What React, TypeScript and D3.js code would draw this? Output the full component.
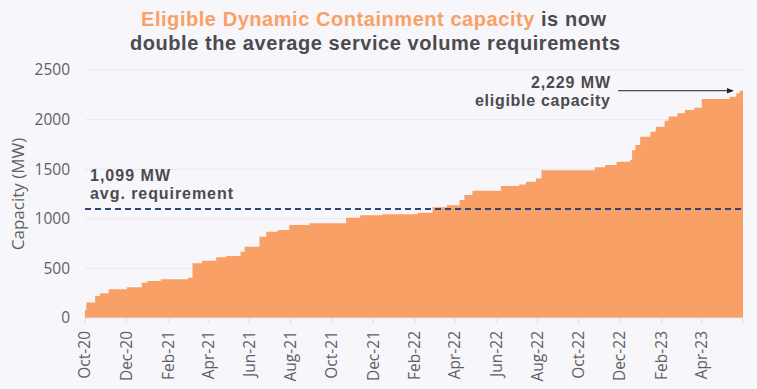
import React, { useEffect } from "react";
import * as d3 from "d3";

const stepDates: string[] = [
  "2020-10-01", "2020-10-03", "2020-10-16", "2020-10-23", "2020-11-05", "2020-12-02",
  "2020-12-24", "2021-01-01", "2021-01-21", "2021-03-02", "2021-03-09", "2021-03-23",
  "2021-04-13", "2021-04-28", "2021-05-19", "2021-05-25", "2021-06-16", "2021-06-26",
  "2021-07-13", "2021-07-30", "2021-08-29", "2021-10-22", "2021-11-12", "2021-12-14",
  "2022-02-05", "2022-02-27", "2022-03-20", "2022-04-08", "2022-04-15", "2022-04-27",
  "2022-06-08", "2022-07-05", "2022-07-15", "2022-07-30", "2022-08-07", "2022-10-25",
  "2022-11-09", "2022-11-26", "2022-12-16", "2022-12-19", "2022-12-24", "2022-12-31",
  "2023-01-15", "2023-01-23", "2023-02-05", "2023-02-11", "2023-02-24", "2023-03-07",
  "2023-03-21", "2023-04-01", "2023-05-12", "2023-05-22", "2023-05-27", "2023-06-01",
];
const capacityMW: number[] = [
  80, 155, 222, 249, 289, 309,
  356, 373, 390, 406, 551, 578,
  612, 625, 668, 719, 820, 870,
  887, 937, 955, 1011, 1035, 1045,
  1060, 1116, 1136, 1190, 1240, 1283,
  1330, 1347, 1374, 1405, 1490, 1519,
  1542, 1576, 1593, 1690, 1744, 1828,
  1878, 1929, 1989, 2030, 2063, 2097,
  2120, 2208, 2231, 2265, 2291, 2291,
];
const tickDates: string[] = [
  "2020-10-01", "2020-12-01", "2021-02-01", "2021-04-01", "2021-06-01", "2021-08-01",
  "2021-10-01", "2021-12-01", "2022-02-01", "2022-04-01", "2022-06-01", "2022-08-01",
  "2022-10-01", "2022-12-01", "2023-02-01", "2023-04-01", "2023-06-01",
];
const tickLabels: string[] = [
  "Oct-20", "Dec-20", "Feb-21", "Apr-21", "Jun-21", "Aug-21", "Oct-21", "Dec-21",
  "Feb-22", "Apr-22", "Jun-22", "Aug-22", "Oct-22", "Dec-22", "Feb-23", "Apr-23", "",
];
const yTicks: number[] = [0, 500, 1000, 1500, 2000, 2500];
const avgRequirement = 1099;

const W = 757;
const H = 389;
const BG = "#f7f6fa";
const ORANGE = "#f9a066";
const TEXT = "#4b4b4f";
const FONT = "'Open Sans', 'DejaVu Sans', sans-serif";
const BOLD_FONT = "'Liberation Sans', Arial, sans-serif";

export default function App() {
  useEffect(() => {
    document.body.style.margin = "0";
    document.body.style.background = BG;
  }, []);

  const parse = d3.utcParse("%Y-%m-%d");
  const data = stepDates.map((d, i) => ({ date: parse(d) as Date, v: capacityMW[i] }));

  const x = d3
    .scaleUtc()
    .domain([parse("2020-10-01") as Date, parse("2023-06-01") as Date])
    .range([85, 743]);
  const y = d3.scaleLinear().domain([0, 2500]).range([318, 70]);

  const area = d3
    .area<{ date: Date; v: number }>()
    .x((d) => x(d.date))
    .y0(y(0))
    .y1((d) => y(d.v))
    .curve(d3.curveStepAfter);

  const [x0, x1] = x.range();
  const yAvg = y(avgRequirement);
  const lastPt = data[data.length - 1];
  const yLast = y(lastPt.v);

  return (
    <svg width={W} height={H} style={{ display: "block", background: BG }} fontFamily={FONT}>
      <defs>
        <marker id="arrow" viewBox="0 0 10 10" refX="9" refY="5" markerWidth="7" markerHeight="7" orient="auto">
          <path d="M0,1 L10,5 L0,9 Z" fill="#222" />
        </marker>
      </defs>
      <rect width={W} height={H} fill={BG} />
      <text
        x={141}
        y={26}
        fontFamily={BOLD_FONT}
        fontSize={20}
        fontWeight={700}
        fill={TEXT}
        textLength={465}
        lengthAdjust="spacing"
      >
        <tspan fill={ORANGE}>Eligible Dynamic Containment capacity</tspan>
        <tspan> is now</tspan>
      </text>
      <text
        x={130}
        y={50}
        fontFamily={BOLD_FONT}
        fontSize={20}
        fontWeight={700}
        fill={TEXT}
        textLength={490}
        lengthAdjust="spacing"
      >
        double the average service volume requirements
      </text>

      {yTicks.map((t) => (
        <g key={t}>
          {t > 0 && <line x1={x0} x2={x1} y1={y(t)} y2={y(t)} stroke="#e9e8ee" strokeWidth={1} />}
          <text x={70} y={y(t)} dy="0.35em" textAnchor="end" fontSize={15.5} fill="#5f5f66">
            {t}
          </text>
        </g>
      ))}
      <text
        transform={`translate(18,${(y(0) + y(2500)) / 2}) rotate(-90)`}
        textAnchor="middle"
        dy="0.35em"
        fontSize={17}
        fill="#5f5f66"
      >
        Capacity (MW)
      </text>

      <path d={area(data) || ""} fill={ORANGE} />

      <line x1={x0} x2={x1} y1={y(0)} y2={y(0)} stroke="#e4e3ea" strokeWidth={1} />
      {tickDates.map((d, i) => {
        const xp = x(parse(d) as Date);
        return (
          <g key={d}>
            <line x1={xp} x2={xp} y1={y(0)} y2={y(0) + 5} stroke="#dcdbe2" />
            {tickLabels[i] && (
              <text
                transform={`translate(${xp},${y(0) + 13}) rotate(-90)`}
                textAnchor="end"
                dy="0.35em"
                fontSize={15.5}
                fill="#5f5f66"
              >
                {tickLabels[i]}
              </text>
            )}
          </g>
        );
      })}

      <line x1={x0} x2={x1} y1={yAvg} y2={yAvg} stroke="#2f4677" strokeWidth={2} strokeDasharray="6 4" />
      <g fontFamily={BOLD_FONT} fontSize={16} fontWeight={700} fill={TEXT}>
        <text x={90} y={yAvg - 28} textLength={80} lengthAdjust="spacing">1,099 MW</text>
        <text x={90} y={yAvg - 10} textLength={143} lengthAdjust="spacing">avg. requirement</text>
        <text x={531} y={yLast - 3} textLength={79} lengthAdjust="spacing">2,229 MW</text>
        <text x={475} y={yLast + 15} textLength={135} lengthAdjust="spacing">eligible capacity</text>
      </g>
      <line
        x1={618}
        x2={x(lastPt.date) - 10}
        y1={yLast}
        y2={yLast}
        stroke="#222"
        strokeWidth={1}
        markerEnd="url(#arrow)"
      />
    </svg>
  );
}
